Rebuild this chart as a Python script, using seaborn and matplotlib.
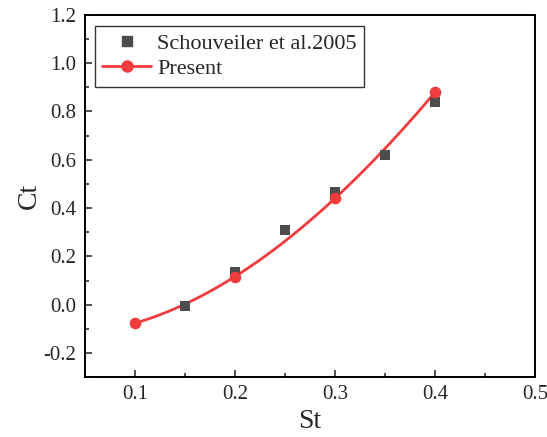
import numpy as np
import pandas as pd
import matplotlib
matplotlib.use("Agg")
import matplotlib.pyplot as plt
from matplotlib.lines import Line2D
from matplotlib.ticker import MultipleLocator
import seaborn as sns

# Dados
st_ref = [0.15, 0.20, 0.25, 0.30, 0.35, 0.40]
ct_ref = [-0.004, 0.135, 0.308, 0.468, 0.620, 0.838]
st_present = [0.10, 0.20, 0.30, 0.40]
ct_present = [-0.077, 0.116, 0.440, 0.879]

df_ref = pd.DataFrame({"St": st_ref, "Ct": ct_ref})
df_present = pd.DataFrame({"St": st_present, "Ct": ct_present})

sns.set_theme(style="ticks")
plt.rcParams["font.family"] = ["Liberation Serif", "DejaVu Serif"]

cor_ref = "#4d4d4d"
cor_present = "#f03c3c"

fig = plt.figure(figsize=(5.47, 4.37), dpi=100)
ax = fig.add_axes([0.155, 0.137, 0.823, 0.829])

sns.scatterplot(data=df_ref, x="St", y="Ct", marker="s", s=55, color=cor_ref,
                edgecolor=cor_ref, linewidth=0, ax=ax, zorder=3)
# curva suave que passa pelos pontos (ajuste cúbico feito pelo seaborn)
sns.regplot(data=df_present, x="St", y="Ct", order=3, ci=None, truncate=True,
            scatter=False, line_kws={"color": cor_present, "lw": 2}, ax=ax)
sns.scatterplot(data=df_present, x="St", y="Ct", marker="o", s=70, color=cor_present,
                edgecolor=cor_present, linewidth=0, ax=ax, zorder=4)

ax.set_xlim(0.05, 0.5)
ax.set_ylim(-0.3, 1.2)
ax.xaxis.set_minor_locator(MultipleLocator(0.05))
ax.yaxis.set_minor_locator(MultipleLocator(0.1))
ax.set_xticks([0.1, 0.2, 0.3, 0.4, 0.5])
ax.set_xticklabels(["0.1", "0.2", "0.3", "0.4", "0.5"])
ax.set_yticks([-0.2, 0.0, 0.2, 0.4, 0.6, 0.8, 1.0, 1.2])
ax.set_yticklabels(["-0.2", "0.0", "0.2", "0.4", "0.6", "0.8", "1.0", "1.2"])

ax.tick_params(which="major", direction="in", length=5, width=1.2, labelsize=15,
               top=False, right=False, color="#333333", pad=6)
ax.tick_params(which="minor", direction="in", length=3, width=1.2,
               top=False, right=False, color="#333333")
for sp in ax.spines.values():
    sp.set_linewidth(1.4)
    sp.set_color("black")
    sp.set_visible(True)

ax.set_xlabel("St", fontsize=20, labelpad=3)
ax.set_ylabel("Ct", fontsize=20, labelpad=1)

handles = [
    Line2D([], [], linestyle="none", marker="s", markersize=7, color=cor_ref),
    Line2D([], [], color=cor_present, lw=2, marker="o", markersize=8),
]
leg = ax.legend(handles, ["Schouveiler et al.2005", "Present"], loc="upper left",
                bbox_to_anchor=(0.022, 0.97), fontsize=16, frameon=True, fancybox=False,
                edgecolor="black", handlelength=2.2, borderpad=0.35, labelspacing=0.2,
                handletextpad=0.25, borderaxespad=0)
leg.get_frame().set_linewidth(1.0)

fig.savefig("out.png", dpi=100)
plt.close("all")
